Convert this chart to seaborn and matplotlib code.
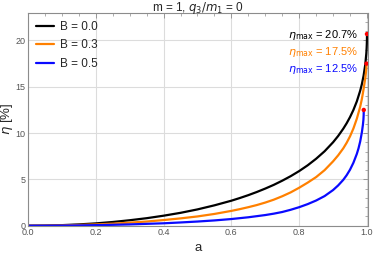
import numpy as np
import pandas as pd
import matplotlib
matplotlib.use("Agg")
import matplotlib.pyplot as plt
import seaborn as sns
from matplotlib.ticker import MultipleLocator

# values
a_black = [0.0, 0.05, 0.1, 0.15, 0.2, 0.25, 0.3, 0.35, 0.4, 0.45, 0.5, 0.55, 0.6, 0.625, 0.65,
           0.675, 0.7, 0.725, 0.75, 0.775, 0.8, 0.825, 0.85, 0.875, 0.9, 0.915, 0.93, 0.94,
           0.95, 0.96, 0.97, 0.98, 0.985, 0.99, 0.995, 0.998, 0.999, 0.9995, 0.9999, 1.0]
eta_black = [0.0, 0.016, 0.06, 0.14, 0.25, 0.40, 0.59, 0.81, 1.08, 1.39, 1.76, 2.20, 2.70, 2.99, 3.30,
             3.64, 4.01, 4.41, 4.86, 5.35, 5.90, 6.52, 7.23, 8.04, 9.01, 9.69, 10.47, 11.06,
             11.73, 12.50, 13.42, 14.58, 15.30, 16.20, 17.42, 18.58, 19.18, 19.62, 20.22, 20.7]

a_orange = [0.0, 0.05, 0.1, 0.15, 0.2, 0.25, 0.3, 0.35, 0.4, 0.45, 0.5, 0.55, 0.6, 0.625, 0.65,
            0.675, 0.7, 0.725, 0.75, 0.775, 0.8, 0.825, 0.85, 0.875, 0.9, 0.915, 0.93, 0.94,
            0.95, 0.96, 0.97, 0.98, 0.985, 0.99, 0.995, 0.9975, 0.9982, 0.9985]
eta_orange = [0.0, 0.01, 0.035, 0.08, 0.14, 0.22, 0.33, 0.45, 0.61, 0.79, 1.0, 1.27, 1.6, 1.79, 2.0,
              2.23, 2.5, 2.81, 3.18, 3.6, 4.1, 4.65, 5.25, 6.0, 6.95, 7.6, 8.35, 8.95,
              9.65, 10.5, 11.55, 12.85, 13.7, 14.75, 15.95, 16.75, 17.1, 17.5]

a_blue = [0.0, 0.05, 0.1, 0.15, 0.2, 0.25, 0.3, 0.35, 0.4, 0.45, 0.5, 0.55, 0.6, 0.65, 0.7,
          0.725, 0.75, 0.775, 0.8, 0.825, 0.85, 0.875, 0.9, 0.915, 0.93, 0.94, 0.95, 0.96,
          0.97, 0.975, 0.98, 0.985, 0.988, 0.9895, 0.9902, 0.9905]
eta_blue = [0.0, 0.004, 0.014, 0.03, 0.06, 0.095, 0.14, 0.2, 0.26, 0.35, 0.45, 0.57, 0.72, 0.91, 1.15,
            1.3, 1.48, 1.72, 2.0, 2.33, 2.72, 3.2, 3.85, 4.35, 4.95, 5.45, 6.05, 6.8,
            7.75, 8.35, 9.1, 10.1, 10.9, 11.45, 11.95, 12.5]

labels = ["B = 0.0", "B = 0.3", "B = 0.5"]
eta_max = ["20.7", "17.5", "12.5"]
colors = ["#000000", "#FF8000", "#0A0AFF"]

df = pd.concat([
    pd.DataFrame({"a": a_black, "eta": eta_black, "B": labels[0]}),
    pd.DataFrame({"a": a_orange, "eta": eta_orange, "B": labels[1]}),
    pd.DataFrame({"a": a_blue, "eta": eta_blue, "B": labels[2]}),
])

sns.set_style("white")
plt.rcParams["font.family"] = ["Liberation Sans", "DejaVu Sans"]

fig = plt.figure(figsize=(3.75, 2.54), dpi=100)
ax = fig.add_axes([28 / 375, 1 - 225.7 / 254, 340 / 375, 213 / 254])

sns.lineplot(data=df, x="a", y="eta", hue="B", palette=colors, estimator=None,
             sort=False, linewidth=1.6, ax=ax)

# end points
ends_a = [a_black[-1], a_orange[-1], a_blue[-1]]
ends_eta = [eta_black[-1], eta_orange[-1], eta_blue[-1]]
sns.scatterplot(x=ends_a, y=ends_eta, color="#FF0000", s=10, edgecolor="none", ax=ax, zorder=5)

ax.set_xlim(0, 1.003)
ax.set_ylim(0, 23.0)
ax.xaxis.set_major_locator(MultipleLocator(0.2))
ax.xaxis.set_minor_locator(MultipleLocator(0.05))
ax.yaxis.set_major_locator(MultipleLocator(5))
ax.yaxis.set_minor_locator(MultipleLocator(1))
ax.set_xticklabels([f"{v:.1f}" for v in ax.get_xticks()])
ax.grid(True, which="major", color="#DCDCDC", linewidth=0.8)

for s in ax.spines.values():
    s.set_color("#8C8C8C")
    s.set_linewidth(0.8)
ax.tick_params(which="both", direction="in", top=True, right=True, colors="#8C8C8C",
               labelcolor="#555555", labelsize=6.5, pad=2)
ax.tick_params(which="major", length=3.5, width=0.6)
ax.tick_params(which="minor", length=2, width=0.5)

ax.set_xlabel("a", fontsize=9.5, labelpad=3)
ax.set_ylabel(r"$\eta$ [%]", fontsize=9.5)
ax.yaxis.set_label_coords(-0.038, 0.5)
ax.set_title(r"m = 1, $q_3/m_1$ = 0", fontsize=8.5, pad=1.5)

handles, _ = ax.get_legend_handles_labels()
ax.legend(handles=handles[:3], labels=labels, loc="upper left", frameon=False, fontsize=8.5,
          handlelength=1.5, handletextpad=0.5, labelspacing=0.55,
          borderaxespad=0.3, bbox_to_anchor=(0.0, 1.0))

for i, (val, c) in enumerate(zip(eta_max, colors)):
    ax.text(0.975, 20.6 - i * 1.85, r"$\eta_{\mathrm{max}}$ = " + val + "%", color=c,
            fontsize=8, ha="right", va="center")

fig.savefig("out.png", dpi=100)
